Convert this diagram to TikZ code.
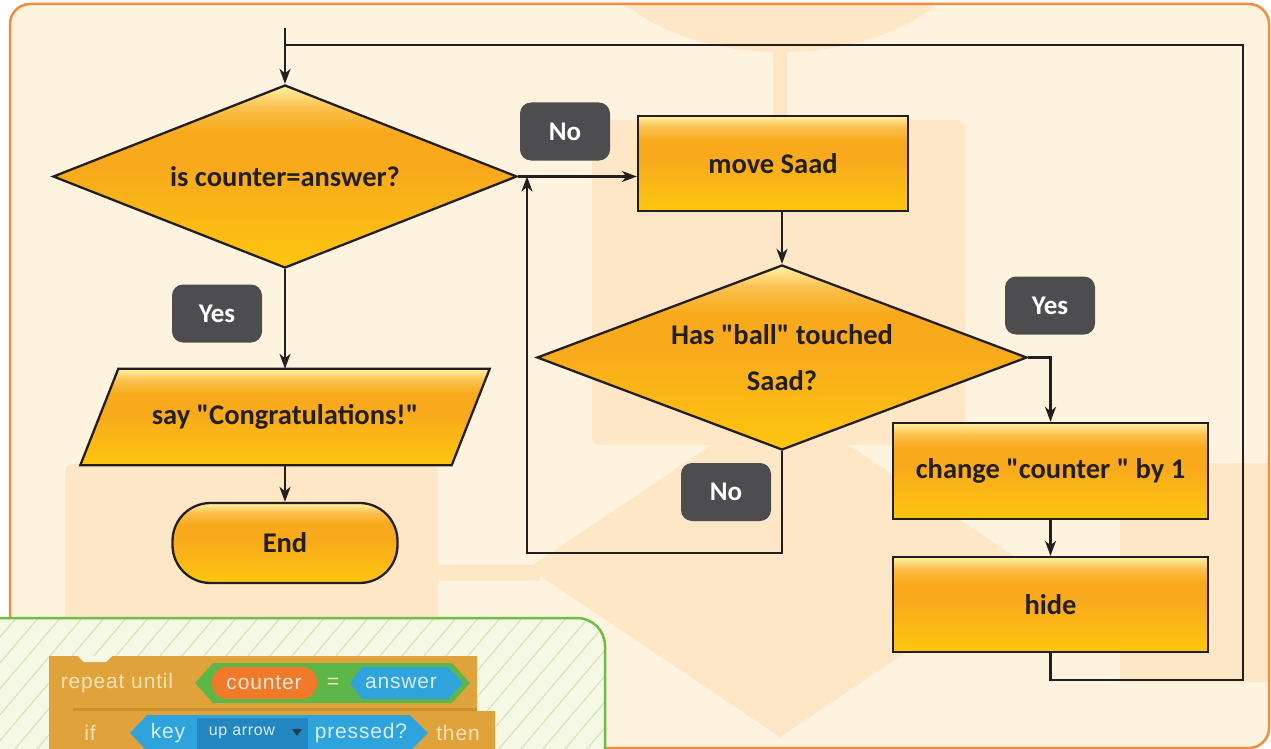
\documentclass[tikz,border=0pt]{standalone}
\usepackage{fontspec}
\setmainfont{Carlito}[Ligatures=TeXOff]
\newfontfamily\blockfont[LetterSpace=4]{Liberation Sans}
\usetikzlibrary{shapes.geometric,arrows.meta,calc}
\definecolor{cream}{HTML}{FEF3DF}
\definecolor{bgdark}{HTML}{FDE7C7}
\definecolor{orangeB}{HTML}{F68B3D}
\definecolor{greenB}{HTML}{6CBE45}
\definecolor{greenfill}{HTML}{F4F8E4}
\definecolor{hatchc}{HTML}{CFE5AE}
\definecolor{linec}{HTML}{231F20}
\definecolor{labgray}{HTML}{4D4C4E}
\definecolor{ytop}{HTML}{FFF2A6}
\definecolor{yup}{HTML}{FBC04E}
\definecolor{ymid}{HTML}{F8AA1C}
\definecolor{ybot}{HTML}{FDC60F}
\definecolor{gold}{HTML}{E0A33C}
\definecolor{golddark}{HTML}{CB902F}
\definecolor{goldtxt}{HTML}{F8E3B6}
\definecolor{sgreen}{HTML}{5DB648}
\definecolor{sorange}{HTML}{F07A2A}
\definecolor{sblue}{HTML}{2FA3DC}
\definecolor{sbluedark}{HTML}{2486C0}
\definecolor{sbluetxt}{HTML}{D6EEFB}
\pgfdeclarelayer{back}
\pgfdeclarelayer{mid}
\pgfsetlayers{back,mid,main}
\pgfdeclareverticalshading{boxshade}{100bp}{color(0bp)=(ybot); color(25bp)=(ybot); color(52bp)=(ymid); color(62bp)=(ymid); color(69bp)=(yup); color(75bp)=(ytop); color(100bp)=(ytop)}
\begin{document}
\begin{tikzpicture}[x=1pt,y=-1pt,
  txt/.style={font=\bfseries\fontsize{28.5}{46}\selectfont, text=linec},
  boxn/.style={txt, rectangle, draw=linec, line width=2.3pt, shade, shading=boxshade, inner sep=0},
  dia/.style={txt, diamond, draw=linec, line width=2.3pt, shade, shading=boxshade, inner sep=0, align=center},
  endn/.style={txt, rectangle, rounded corners=38pt, draw=linec, line width=2.3pt, shade, shading=boxshade, inner sep=0},
  lab/.style={rectangle, rounded corners=11pt, fill=labgray, text=white, minimum width=90, minimum height=58, inner sep=0, font=\bfseries\fontsize{27}{30}\selectfont},
  line/.style={draw=linec, line width=2.3pt},
  conn/.style={line, -{Stealth[length=15pt,width=11pt,inset=4.5pt]}},
  blk/.style={font=\blockfont\fontsize{21}{22}\selectfont, inner sep=0},
  hatch/.style={draw=hatchc, line width=1pt}
]
\useasboundingbox (0,0) rectangle (1271,749);

% ---------- background ----------
\begin{pgfonlayer}{back}
\fill[white] (0,0) rectangle (1271,749);
\begin{scope}
  \clip[rounded corners=20pt] (10,4) rectangle (1269,748);
  \fill[cream] (0,0) rectangle (1271,749);
  \fill[bgdark] (781,-60) ellipse [x radius=190, y radius=112];
  \fill[bgdark] (773,45) rectangle (787,122);
  \fill[bgdark, rounded corners=8pt] (592,120) rectangle (965,445);
  \fill[bgdark] (528,568) -- (780,399) -- (1032,568) -- (780,737) -- cycle;
  \fill[bgdark] (437,565) rectangle (540,581);
  \fill[bgdark, rounded corners=8pt] (65,464) rectangle (438,770);
  \fill[bgdark] (1120,463) rectangle (1280,682);
  \fill[bgdark] (1025,565) rectangle (1125,581);
\end{scope}
\draw[orangeB, line width=2.5pt, rounded corners=20pt] (10,4) rectangle (1269,748);
\begin{scope}
  \clip[rounded corners=28pt] (-40,618) rectangle (605,800);
  \fill[greenfill] (-40,618) rectangle (605,800);
  \foreach \i in {-240,-218,...,700} \draw[hatch] (\i,790) -- ++(170,-200);
\end{scope}
\draw[greenB, line width=2.5pt, rounded corners=28pt] (-40,618) rectangle (605,800);
\end{pgfonlayer}

% ---------- scratch blocks ----------
\fill[gold] (49,656) rectangle (477,714);
\fill[gold] (49,700) rectangle (75,760);
\fill[golddark] (73,708) rectangle (477,711);
\fill[gold] (73,711) rectangle (495,770);
\fill[greenfill] (78,656) -- (84,662) -- (106,662) -- (112,656) -- cycle;
\fill[sgreen] (195,683) -- (213,663) -- (452,663) -- (470,683) -- (452,703) -- (213,703) -- cycle;
\fill[sorange, rounded corners=15pt] (212,667) rectangle (317,699);
\fill[sblue] (350,683) -- (362,667) -- (448,667) -- (463,683) -- (448,699) -- (362,699) -- cycle;
\node[blk, text=goldtxt] (rep) at (117,683) {repeat until};
\node[blk, text=white!85!sorange] (cnt) at (264,683) {counter};
\node[blk, text=goldtxt] (eq) at (333,683) {=};
\node[blk, text=sbluetxt] (ans) at (401,683) {answer};
\fill[sblue] (130,733) -- (147,715) -- (410,715) -- (428,733) -- (410,751) -- (147,751) -- cycle;
\fill[sbluedark] (197,718) rectangle (308,749);
\node[blk, text=goldtxt] (iftxt) at (90,733) {if};
\node[blk, text=sbluetxt] (key) at (168,733) {key};
\node[blk, text=sbluetxt, font=\blockfont\fontsize{16}{18}\selectfont] (dd) at (242,733) {up arrow};
\fill[linec!70!sbluedark] (292,729) -- (302,729) -- (297,736) -- cycle;
\node[blk, text=sbluetxt] (prs) at (361,733) {pressed?};
\node[blk, text=goldtxt] (then) at (458,733) {then};

% ---------- flowchart nodes ----------
\node[dia, aspect=2.5, minimum width=464, minimum height=183] (d1) at (285,176.5) {is counter=answer?};
\node[txt, rectangle, minimum width=371, minimum height=96, inner sep=0] (say) at (285,417) {say "Congratulations!"};
\begin{pgfonlayer}{mid}
\path[shade, shading=boxshade, draw=linec, line width=2.3pt, line join=miter]
  ([xshift=19pt]say.north west) -- ([xshift=19pt]say.north east) -- ([xshift=-19pt]say.south east) -- ([xshift=-19pt]say.south west) -- cycle;
\end{pgfonlayer}
\node[endn, minimum width=225, minimum height=80] (end) at (285,543) {End};
\node[boxn, minimum width=270, minimum height=95] (move) at (773,163.5) {move Saad};
\node[dia, aspect=2.6, minimum width=490, minimum height=185] (d2) at (782,357.5) {Has "ball" touched\\Saad?};
\node[boxn, minimum width=315, minimum height=96] (chg) at (1050.5,471) {change "counter " by 1};
\node[boxn, minimum width=315, minimum height=95] (hide) at (1050.5,604.5) {hide};

\node[lab] (no1) at (565,131.5) {No};
\node[lab] (yes1) at (217,313.5) {Yes};
\node[lab] (yes2) at (1050,305.5) {Yes};
\node[lab] (no2) at (726,492) {No};

% ---------- connectors ----------
\coordinate (start) at (285,28);
\coordinate (loopT) at (285,45);
\coordinate (loopR) at (1243,680);
\coordinate (joinL) at (527,176.5);
\draw[conn] (start) -- (d1.north);
\draw[line] (loopT) -| (loopR) -| (hide.south);
\draw[conn] (d1.south) -- (say.north);
\draw[conn] (say.south) -- (end.north);
\draw[conn] (d1.east) -- (d1.east -| move.west);
\draw[conn] (move.south -| d2.north) -- (d2.north);
\draw[conn] (d2.south) -- ++(0,102) -| (joinL);
\draw[conn] (d2.east) -| (chg.north);
\draw[conn] (chg.south) -- (hide.north);
\end{tikzpicture}
\end{document}
